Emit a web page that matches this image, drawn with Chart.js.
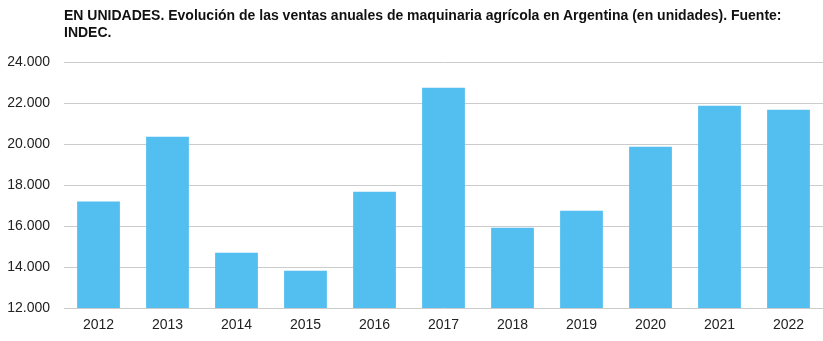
<!DOCTYPE html>
<html>
<head>
<meta charset="utf-8">
<script src="https://cdn.jsdelivr.net/npm/chart.js@4"></script>
<style>
  html, body { margin: 0; padding: 0; background: #fff; }
  #wrap { position: relative; width: 823px; height: 341px; overflow: hidden; }
  #title { position: absolute; left: 64px; top: 7px; font-family: "Liberation Sans", Arial, sans-serif; font-weight: bold; font-size: 14px; line-height: 17px; color: #111; white-space: nowrap; }
  canvas { position: absolute; left: 0; top: 0; }
</style>
</head>
<body>
<div id="wrap">
  <canvas id="c" width="823" height="341"></canvas>
  <div id="title">EN UNIDADES. Evolución de las ventas anuales de maquinaria agrícola en Argentina (en unidades). Fuente:<br>INDEC.</div>
</div>
<script>
const categories = ["2012","2013","2014","2015","2016","2017","2018","2019","2020","2021","2022"];
const ventas = [17190, 20350, 14700, 13820, 17670, 22750, 15920, 16750, 19870, 21870, 21670];
const yMin = 12000, yMax = 24000, yStep = 2000;

function fmt(v) { return String(v).replace(/\B(?=(\d{3})+(?!\d))/g, "."); }

new Chart(document.getElementById("c"), {
  type: "bar",
  data: {
    labels: categories,
    datasets: [{ data: ventas, backgroundColor: "#53BFF0", borderWidth: 0, categoryPercentage: 1, barPercentage: 0.62 }]
  },
  options: {
    responsive: false,
    animation: false,
    devicePixelRatio: 1,
    layout: { padding: { top: 62, right: -4, left: 0, bottom: 0 } },
    plugins: { legend: { display: false }, tooltip: { enabled: false }, title: { display: false } },
    scales: {
      x: {
        grid: { display: false, drawTicks: false },
        border: { display: false },
        ticks: { color: "#222", font: { family: "Liberation Sans", size: 14 }, padding: 9, maxRotation: 0 },
        afterFit: s => { s.height = 33; }
      },
      y: {
        min: yMin, max: yMax,
        grid: { color: "#cccccc", lineWidth: 1, drawTicks: false },
        border: { display: false },
        ticks: { stepSize: yStep, color: "#222", font: { family: "Liberation Sans", size: 14 }, padding: 14, callback: v => fmt(v) },
        afterFit: s => { s.width = 64; }
      }
    }
  }
});
</script>
</body>
</html>
